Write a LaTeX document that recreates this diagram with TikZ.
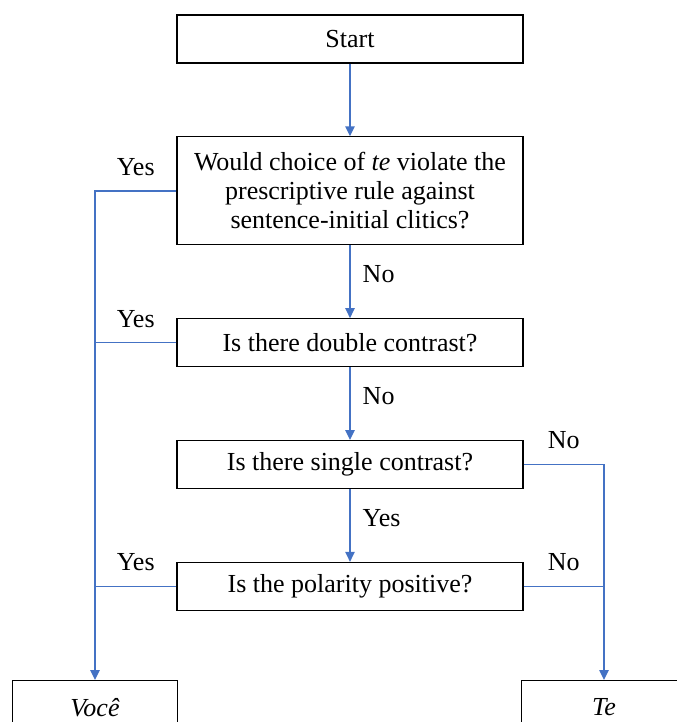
\documentclass[tikz,border=0pt]{standalone}
\usepackage{fontspec}
\setmainfont{Liberation Serif}
\usepackage{xcolor}
\usepackage{tikz}
\usetikzlibrary{arrows.meta,positioning}
\definecolor{cflow}{HTML}{4472C4}

\begin{document}
\begin{tikzpicture}[
    x=0.75pt, y=-0.75pt,
    node distance=54.5pt,
    every node/.style={font=\fontsize{19.5}{21.75}\selectfont},
    qbox/.style={draw=black, line width=0.9pt, fill=white, align=center,
               minimum width=259.5pt, minimum height=36pt, inner sep=2pt},
    endbox/.style={draw=black, line width=0.9pt, fill=white, align=center,
               minimum width=124pt, minimum height=40pt, anchor=north, font=\fontsize{19.5}{21.75}\selectfont\itshape},
    lbl/.style={inner sep=1pt},
    link/.style={draw=cflow, line width=1.1pt},
    arr/.style={-{Triangle[length=7.5pt,width=7pt]}, draw=cflow, line width=1.1pt}
]
\path[use as bounding box, clip] (0,0) rectangle (677,722);
\node[qbox] (start) at (350,39) {Start};
\node[qbox, below=of start, minimum height=81pt] (q1) {Would choice of \textit{te} violate the\\prescriptive rule against\\sentence-initial clitics?};
\node[qbox, below=of q1] (q2) {Is there double contrast?};
\node[qbox, below=of q2] (q3) {Is there single contrast?};
\node[qbox, below=of q3] (q4) {Is the polarity positive?};
\node[endbox] (voce) at (95,680) {Você};
\node[endbox] (te) at (604,680) {Te};
% centre column
\draw[arr] (start) -- (q1);
\draw[arr] (q1) -- node[lbl, right=8pt, pos=0.4] {No} (q2);
\draw[arr] (q2) -- node[lbl, right=8pt, pos=0.4] {No} (q3);
\draw[arr] (q3) -- node[lbl, right=8pt, pos=0.4] {Yes} (q4);
% left rail
\draw[arr] (q1.west) -- node[lbl, above=10pt] {Yes} (q1.west -| voce.north) -- (voce.north);
\draw[link] (q2.west) -- node[lbl, above=10pt] {Yes} (q2.west -| voce.north);
\draw[link] (q4.west) -- node[lbl, above=10pt] {Yes} (q4.west -| voce.north);
% right rail
\draw[arr] (q3.east) -- node[lbl, above=10pt] {No} (q3.east -| te.north) -- (te.north);
\draw[link] (q4.east) -- node[lbl, above=10pt] {No} (q4.east -| te.north);
\end{tikzpicture}
\end{document}
